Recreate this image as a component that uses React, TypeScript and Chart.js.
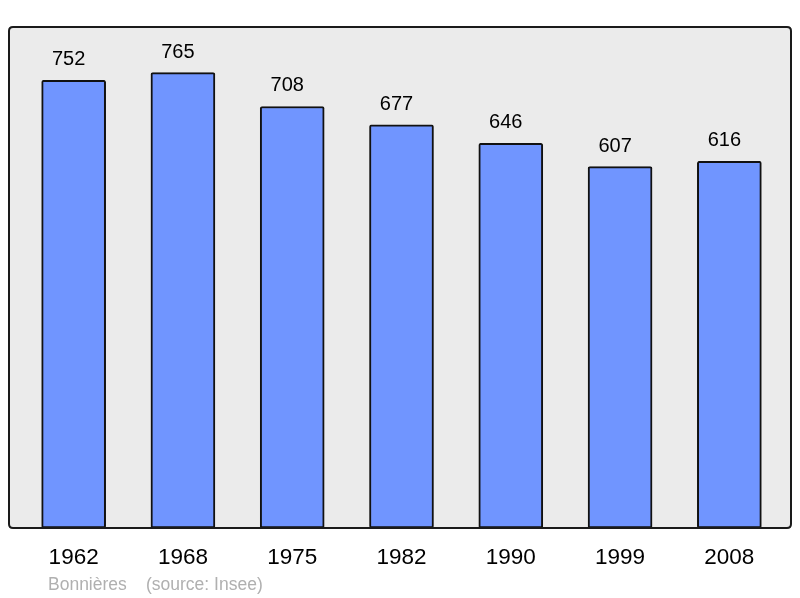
import React, { useEffect, useRef } from "react";
import { Chart, registerables } from "chart.js";

Chart.register(...registerables);

const years = ["1962", "1968", "1975", "1982", "1990", "1999", "2008"];
const population = [752, 765, 708, 677, 646, 607, 616];
const footerPlace = "Bonnières";
const footerSource = "(source: Insee)";

function framePath(ctx: any, x0: number, y0: number, x1: number, y1: number, r: number) {
  ctx.beginPath();
  ctx.moveTo(x0 + r, y0);
  ctx.lineTo(x1 - r, y0);
  ctx.quadraticCurveTo(x1, y0, x1, y0 + r);
  ctx.lineTo(x1, y1 - r);
  ctx.quadraticCurveTo(x1, y1, x1 - r, y1);
  ctx.lineTo(x0 + r, y1);
  ctx.quadraticCurveTo(x0, y1, x0, y1 - r);
  ctx.lineTo(x0, y0 + r);
  ctx.quadraticCurveTo(x0, y0, x0 + r, y0);
  ctx.closePath();
}

const framePlugin = {
  id: "frame",
  beforeDraw(chart: any) {
    const { ctx, chartArea } = chart;
    ctx.save();
    framePath(ctx, chartArea.left - 10, chartArea.top, chartArea.right + 7, chartArea.bottom, 4);
    ctx.fillStyle = "#ebebeb";
    ctx.fill();
    ctx.restore();
  },
  afterDatasetsDraw(chart: any) {
    const { ctx, chartArea, scales } = chart;
    const y1 = chartArea.bottom;
    ctx.save();
    framePath(ctx, chartArea.left - 10, chartArea.top, chartArea.right + 7, chartArea.bottom, 4);
    ctx.lineWidth = 2;
    ctx.strokeStyle = "#1a1a1a";
    ctx.stroke();

    // value labels
    const meta = chart.getDatasetMeta(0);
    ctx.fillStyle = "#000";
    ctx.font = "20px 'Liberation Sans', Arial, sans-serif";
    ctx.textAlign = "center";
    ctx.textBaseline = "alphabetic";
    meta.data.forEach((bar: any, i: number) => {
      ctx.fillText(String(population[i]), bar.x - 5, bar.y - 15);
    });

    // x labels
    ctx.font = "22.5px 'Liberation Sans', Arial, sans-serif";
    years.forEach((y, i) => {
      const x = scales.x.getPixelForValue(i);
      ctx.fillText(y, x, y1 + 36);
    });

    // footer
    ctx.fillStyle = "#b0b0b0";
    ctx.font = "17.5px 'Liberation Sans', Arial, sans-serif";
    ctx.textAlign = "left";
    ctx.fillText(footerPlace, 48, y1 + 62);
    ctx.fillText(footerSource, 146, y1 + 62);
    ctx.restore();
  },
};

export default function App() {
  const ref = useRef<HTMLCanvasElement>(null);
  useEffect(() => {
    if (!ref.current) return;
    const chart = new Chart(ref.current, {
      type: "bar",
      data: {
        labels: years,
        datasets: [
          {
            data: population,
            backgroundColor: "#7095ff",
            borderColor: "#111",
            borderWidth: 2,
            borderRadius: 2,
            borderSkipped: false,
            barThickness: 64,
          },
        ],
      },
      options: {
        animation: false,
        responsive: false,
        layout: { padding: { left: 19, right: 16, top: 27, bottom: 70 } },
        plugins: { legend: { display: false }, tooltip: { enabled: false } },
        scales: {
          x: { display: false },
          y: { display: false, min: 0, max: 841.5 },
        },
      },
      plugins: [framePlugin],
    });
    return () => chart.destroy();
  }, []);
  return (
    <div style={{ position: "absolute", left: 0, top: 0, width: 800, height: 598, background: "#fff" }}>
      <canvas ref={ref} width={800} height={598} />
    </div>
  );
}
